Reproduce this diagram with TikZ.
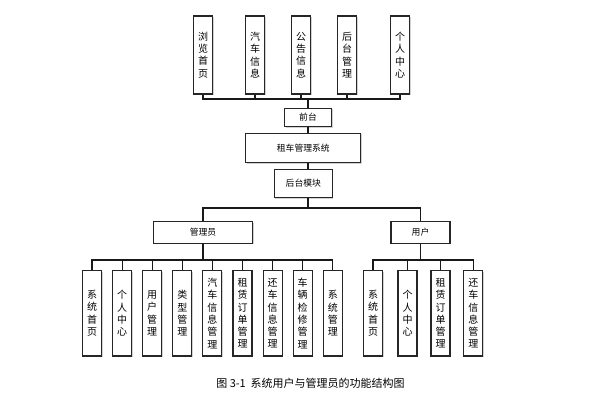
\documentclass[tikz,border=0pt]{standalone}
\usepackage{fontspec}
\newfontfamily\cjk{Noto Sans CJK SC}
\usetikzlibrary{shadows}

\tikzset{
  box/.style={draw=black!85, line width=1.1pt, fill=white, inner sep=0pt,
    drop shadow={shadow xshift=1pt, shadow yshift=-1pt, fill=black!35},
    font=\cjk\fontsize{8.8}{10}\selectfont},
  vbox/.style={box, minimum width=19, align=center,
    font=\cjk\fontsize{10}{12.3}\selectfont},
  link/.style={line width=1.1pt, draw=black!90}
}

\begin{document}
\begin{tikzpicture}[x=1pt,y=-1pt]
\useasboundingbox (0,0) rectangle (605,417);

% front end
\node[vbox, minimum height=78] (t1) at (203,55) {浏\\览\\首\\页};
\node[vbox, minimum height=78] (t2) at (255,55) {汽\\车\\信\\息};
\node[vbox, minimum height=78] (t3) at (301,55) {公\\告\\信\\息};
\node[vbox, minimum height=78] (t4) at (347,55) {后\\台\\管\\理};
\node[vbox, minimum height=78] (t5) at (400,55) {个\\人\\中\\心};
\coordinate (fbus) at (308,99);
\foreach \i in {1,...,5}
  \draw[link] (t\i.south) |- (fbus);

\node[box, minimum width=47, minimum height=18.5] (qt) at (308,117.5) {前台};
\node[box, minimum width=115, minimum height=29] (sys) at (303.3,148) {租车管理系统};
\node[box, minimum width=58, minimum height=28] (bk) at (303.3,183.5) {后台模块};
\draw[link] (fbus) -- (qt.north);
\draw[link] (qt.south) -- (qt.south |- sys.north);
\draw[link] (sys.south -| qt) -- (bk.north -| qt);

% back end
\coordinate (bus) at (308,208);
\node[box, minimum width=99, minimum height=21.5] (adm) at (203,232.5) {管理员};
\node[box, minimum width=59, minimum height=21.5] (usr) at (420.5,232.5) {用户};
\draw[link] (bk.south -| qt) -- (bus);
\draw[link] (bus) -| (adm.north);
\draw[link] (bus) -| (usr.north);

% admin functions
\coordinate (abus) at (203,260);
\foreach \txt [count=\i from 0] in
  {系\\统\\首\\页, 个\\人\\中\\心, 用\\户\\管\\理, 类\\型\\管\\理,
   汽\\车\\信\\息\\管\\理, 租\\赁\\订\\单\\管\\理, 还\\车\\信\\息\\管\\理,
   车\\辆\\检\\修\\管\\理, 系\\统\\管\\理}
{
  \node[vbox, minimum height=85.3] (a\i) at ({92+30.1*\i},313.3) {\txt};
  \draw[link] (adm.south) -- (abus) -| (a\i.north);
}

% user functions
\coordinate (ubus) at (420.5,260);
\node[vbox, minimum height=85.3] (u1) at (373,313.3) {系\\统\\首\\页};
\node[vbox, minimum height=85.3] (u2) at (407.5,313.3) {个\\人\\中\\心};
\node[vbox, minimum height=85.3] (u3) at (440.5,313.3) {租\\赁\\订\\单\\管\\理};
\node[vbox, minimum height=85.3] (u4) at (473.3,313.3) {还\\车\\信\\息\\管\\理};
\foreach \i in {1,...,4}
  \draw[link] (usr.south) -- (ubus) -| (u\i.north);

\node[font=\cjk\fontsize{11}{13}\selectfont] (cap) at (310.5,383)
  {图 3-1\ \ 系统用户与管理员的功能结构图};
\end{tikzpicture}
\end{document}
